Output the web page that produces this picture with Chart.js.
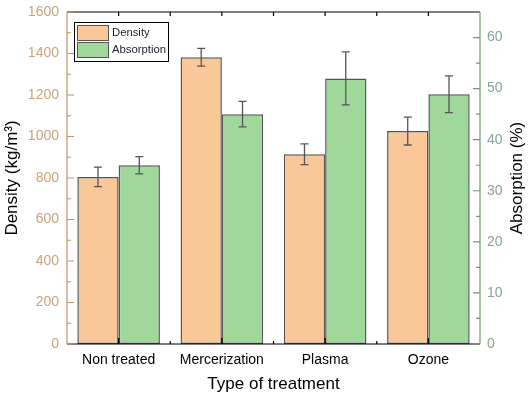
<!DOCTYPE html>
<html>
<head>
<meta charset="utf-8">
<script src="https://cdn.jsdelivr.net/npm/chart.js@4"></script>
<style>
  html, body { margin: 0; padding: 0; background: #fff; }
  #wrap { width: 531px; height: 395px; }
</style>
</head>
<body>
<div id="wrap"><canvas id="myChart" width="531" height="395"></canvas></div>
<script>
// ─── données ───
const treatments    = ['Non treated', 'Mercerization', 'Plasma', 'Ozone'];
const density       = [805, 1382, 914, 1026];
const densityErr    = [47, 43, 50, 67];
const absorption    = [35.0, 45.0, 52.0, 48.9];
const absorptionErr = [1.7, 2.5, 5.2, 3.6];

const FONT = 'Liberation Sans, Arial, sans-serif';
const LEFT_AXIS  = '#BC9468';
const LEFT_TXT   = '#C9A27A';
const RIGHT_AXIS = '#6E9C6E';
const RIGHT_TXT  = '#86A68E';
const EDGE = '#555555';

// barres d'erreur
const errorBars = {
  id: 'errorBars',
  afterDatasetsDraw(chart) {
    const ctx = chart.ctx;
    chart.data.datasets.forEach((ds, di) => {
      const meta = chart.getDatasetMeta(di);
      const scale = chart.scales[ds.yAxisID];
      meta.data.forEach((bar, i) => {
        const v = ds.data[i], e = ds.errors[i];
        const yTop = scale.getPixelForValue(v + e);
        const yBot = scale.getPixelForValue(v - e);
        ctx.save();
        ctx.strokeStyle = EDGE;
        ctx.lineWidth = 1.3;
        ctx.beginPath();
        ctx.moveTo(bar.x, yTop); ctx.lineTo(bar.x, yBot);
        ctx.moveTo(bar.x - 4, yTop); ctx.lineTo(bar.x + 4, yTop);
        ctx.moveTo(bar.x - 4, yBot); ctx.lineTo(bar.x + 4, yBot);
        ctx.stroke();
        ctx.restore();
      });
    });
  }
};

// cadre + graduations intérieures + titres d'axes
const frame = {
  id: 'frame',
  afterDraw(chart) {
    const ctx = chart.ctx;
    const { left, right, top, bottom } = chart.chartArea;
    const x = chart.scales.x, y = chart.scales.y, y1 = chart.scales.y1;
    ctx.save();
    ctx.lineWidth = 1.2;

    // haut / bas en noir
    ctx.strokeStyle = '#000';
    ctx.beginPath();
    ctx.moveTo(left, top); ctx.lineTo(right, top);
    ctx.moveTo(left, bottom); ctx.lineTo(right, bottom);
    treatments.forEach((_, i) => {
      const cx = x.getPixelForValue(i);
      const b  = cx + (x.getPixelForValue(1) - x.getPixelForValue(0)) / 2;
      ctx.moveTo(cx, bottom); ctx.lineTo(cx, bottom - 6);
      ctx.moveTo(cx, top); ctx.lineTo(cx, top + 4);
      if (i < treatments.length - 1) {
        ctx.moveTo(b, bottom); ctx.lineTo(b, bottom - 3);
        ctx.moveTo(b, top); ctx.lineTo(b, top + 4);
      }
    });
    ctx.stroke();

    // axe gauche
    ctx.strokeStyle = LEFT_AXIS;
    ctx.beginPath();
    ctx.moveTo(left, top); ctx.lineTo(left, bottom);
    for (let v = 0; v <= 1600; v += 100) {
      const py = y.getPixelForValue(v);
      ctx.moveTo(left, py); ctx.lineTo(left + (v % 200 === 0 ? 7 : 4), py);
    }
    ctx.stroke();

    // axe droit
    ctx.strokeStyle = RIGHT_AXIS;
    ctx.beginPath();
    ctx.moveTo(right, top); ctx.lineTo(right, bottom);
    for (let v = 0; v <= 65; v += 5) {
      const py = y1.getPixelForValue(v);
      ctx.moveTo(right, py); ctx.lineTo(right - (v % 10 === 0 ? 7 : 4), py);
    }
    ctx.stroke();

    // titres
    const midY = (top + bottom) / 2;
    ctx.fillStyle = '#000';
    ctx.font = '17px ' + FONT;
    ctx.textAlign = 'center';
    ctx.textBaseline = 'middle';
    ctx.fillText('Type of treatment', (left + right) / 2, 384);
    ctx.save();
    ctx.translate(12, midY);
    ctx.rotate(-Math.PI / 2);
    ctx.fillText('Density (kg/m³)', 0, 0);
    ctx.restore();
    ctx.save();
    ctx.translate(517, midY);
    ctx.rotate(-Math.PI / 2);
    ctx.fillText('Absorption (%)', 0, 0);
    ctx.restore();

    // légende encadrée
    const lx = 74, ly = 22, lw = 94, lh = 39;
    ctx.fillStyle = '#fff';
    ctx.fillRect(lx, ly, lw, lh);
    ctx.strokeStyle = '#000';
    ctx.lineWidth = 1;
    ctx.strokeRect(lx + 0.5, ly + 0.5, lw, lh);
    chart.data.datasets.forEach((ds, i) => {
      const sy = ly + 3 + i * 17;
      ctx.fillStyle = ds.backgroundColor;
      ctx.fillRect(77, sy, 31, 15);
      ctx.strokeStyle = EDGE;
      ctx.lineWidth = 1;
      ctx.strokeRect(77.5, sy + 0.5, 31, 15);
      ctx.fillStyle = '#1c1c30';
      ctx.font = '11.3px ' + FONT;
      ctx.textBaseline = 'middle';
      ctx.textAlign = 'left';
      ctx.fillText(ds.label, 112, sy + 8);
    });
    ctx.restore();
  }
};

const ctx = document.getElementById('myChart').getContext('2d');

new Chart(ctx, {
  type: 'bar',
  data: {
    labels: treatments,
    datasets: [
      {
        label: 'Density',
        data: density,
        errors: densityErr,
        yAxisID: 'y',
        backgroundColor: '#FAC898',
        borderColor: EDGE,
        borderWidth: 1.5,
        borderSkipped: false
      },
      {
        label: 'Absorption',
        data: absorption,
        errors: absorptionErr,
        yAxisID: 'y1',
        backgroundColor: '#A0D89C',
        borderColor: EDGE,
        borderWidth: 1.5,
        borderSkipped: false
      }
    ]
  },
  options: {
    responsive: false,
    animation: false,
    categoryPercentage: 0.8,
    barPercentage: 1.0,
    layout: { padding: { top: 12, left: 0, right: 0, bottom: 0 } },
    plugins: {
      legend: { display: false },
      tooltip: { enabled: false }
    },
    scales: {
      x: {
        grid: { display: false, drawTicks: false },
        border: { display: false },
        ticks: {
          color: '#000',
          font: { family: FONT, size: 14 },
          maxRotation: 0,
          autoSkip: false,
          padding: 8
        },
        afterFit: s => { s.height = 51; s.paddingLeft = 0; s.paddingRight = 0; }
      },
      y: {
        position: 'left',
        min: 0, max: 1600,
        grid: { display: false, drawTicks: false },
        border: { display: false },
        ticks: {
          stepSize: 200,
          color: LEFT_TXT,
          font: { family: FONT, size: 14 },
          padding: 8,
          callback: v => String(v)
        },
        afterFit: s => { s.width = 67; s.paddingTop = 0; s.paddingBottom = 0; }
      },
      y1: {
        position: 'right',
        min: 0, max: 65,
        grid: { display: false, drawTicks: false },
        border: { display: false },
        ticks: {
          stepSize: 10,
          includeBounds: false,
          color: RIGHT_TXT,
          font: { family: FONT, size: 14 },
          padding: 7,
          callback: v => String(v)
        },
        afterBuildTicks: s => { s.ticks = s.ticks.filter(t => t.value % 10 === 0); },
        afterFit: s => { s.width = 51; s.paddingTop = 0; s.paddingBottom = 0; }
      }
    }
  },
  plugins: [errorBars, frame]
});
</script>
</body>
</html>
